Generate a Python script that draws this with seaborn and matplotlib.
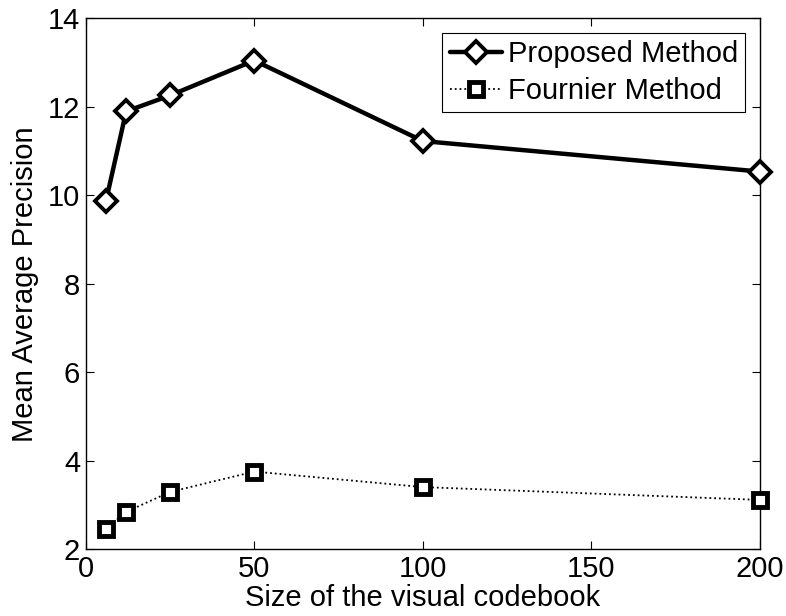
import pandas as pd
import matplotlib
matplotlib.use('Agg')
import matplotlib.pyplot as plt
import seaborn as sns

# codebook sizes and mAP values
codebook_size = [6, 12, 25, 50, 100, 200]
proposed_map = [9.87, 11.9, 12.26, 13.05, 11.23, 10.54]
fournier_map = [2.47, 2.85, 3.30, 3.76, 3.41, 3.12]

sns.set_style("ticks")
plt.rcParams['font.family'] = ['Liberation Sans', 'DejaVu Sans']
plt.rcParams['xtick.direction'] = 'in'
plt.rcParams['ytick.direction'] = 'in'
plt.rcParams['xtick.top'] = True
plt.rcParams['ytick.right'] = True
plt.rcParams['text.color'] = 'black'
plt.rcParams['axes.labelcolor'] = 'black'

df = pd.DataFrame({'size': codebook_size, 'proposed': proposed_map, 'fournier': fournier_map})

fig = plt.figure(figsize=(7.86, 6.16), dpi=100)
ax = fig.add_axes([0.109, 0.108, 0.858, 0.862])

sns.lineplot(data=df, x='size', y='proposed', ax=ax, color='black', linewidth=3.2,
             marker='D', markersize=11.5, markerfacecolor='white', markeredgecolor='black',
             markeredgewidth=2.8, label='Proposed Method', clip_on=False, zorder=3)
sns.lineplot(data=df, x='size', y='fournier', ax=ax, color='black', linewidth=1.3,
             linestyle=':', marker='s', markersize=10, markerfacecolor='white',
             markeredgecolor='black', markeredgewidth=3.5, label='Fournier Method',
             clip_on=False, zorder=3)

ax.set_xlim(0, 200)
ax.set_ylim(2, 14)
ax.set_xticks([0, 50, 100, 150, 200])
ax.set_yticks([2, 4, 6, 8, 10, 12, 14])
ax.tick_params(labelsize=21, length=6, width=0.8, colors='black', pad=4)
for s in ax.spines.values():
    s.set_linewidth(1.0)
    s.set_color('black')

ax.set_xlabel('Size of the visual codebook', fontsize=21, labelpad=1)
ax.set_ylabel('Mean Average Precision', fontsize=21, labelpad=6)

leg = ax.legend(loc='upper right', fontsize=21, frameon=True, fancybox=False,
                framealpha=1, edgecolor='black', borderpad=0.25, handlelength=1.8,
                handletextpad=0.2, labelspacing=0.3, borderaxespad=0.5)
leg.get_frame().set_linewidth(0.8)

fig.savefig('out.png', dpi=100)
